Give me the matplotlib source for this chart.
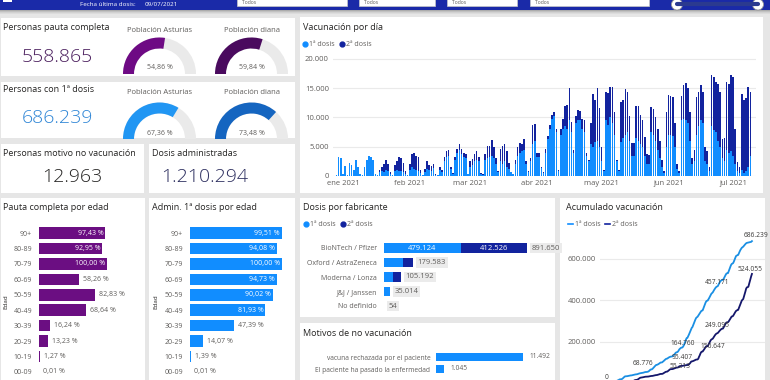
import numpy as np
import pandas as pd
import matplotlib
matplotlib.use("Agg")
import matplotlib.pyplot as plt
from matplotlib.patches import Rectangle, Wedge, Circle
from matplotlib.ticker import FuncFormatter, FixedLocator

plt.rcParams['font.family'] = ['Open Sans', 'DejaVu Sans']

W, H = 770, 380

# ---------------- datos ----------------
fecha_ultima = "09/07/2021"
pauta_completa = 558865
primera_dosis = 686239
motivo_no_vac = 12963
dosis_admin = 1210294
gauge_pauta = [54.86, 59.84]      # Población Asturias, Población diana
gauge_primera = [67.36, 73.48]

# vacunación diaria desde el 28/12/2020 (lunes) hasta el 09/07/2021
dosis1 = [
    50, 100, 3200, 3000, 300, 1700, 200,
    2200, 1900, 1000, 2700, 1500, 300, 100,
    1500, 2800, 3500, 3300, 2700, 300, 100,
    600, 800, 700, 1000, 900, 300, 100,
    900, 1000, 800, 900, 700, 400, 100,
    1000, 1500, 1200, 1000, 900, 500, 100,
    700, 1200, 1100, 900, 1300, 200, 100,
    1100, 700, 2500, 3300, 3500, 1200, 400,
    2800, 4000, 4500, 3800, 3200, 3100, 300,
    1600, 1800, 2500, 2800, 2500, 400, 200,
    2800, 3000, 3300, 3500, 3000, 2000, 600,
    2500, 2000, 2500, 1500, 1200, 600, 300,
    2000, 3500, 4000, 4200, 4500, 2000, 700,
    2500, 5500, 6000, 3300, 3200, 1300, 500,
    4000, 6300, 8000, 9700, 10200, 7500, 900,
    7000, 8000, 8500, 8000, 9500, 7500, 4000,
    9000, 9500, 9500, 8000, 7500, 3500, 2500,
    5500, 5000, 5800, 6000, 5000, 2500, 800,
    9500, 8800, 10000, 9000, 7000, 2500, 900,
    5800, 6500, 7000, 7500, 6000, 3500, 3500,
    6500, 6000, 5500, 5000, 3500, 2000, 2000,
    7500, 7000, 6000, 4500, 3000, 1500, 500,
    5000, 7000, 7000, 6800, 5000, 1200, 500,
    9500, 9800, 9500, 9000, 6000, 2000, 2500,
    7000, 8500, 9500, 9000, 2500, 2000, 800,
    8500, 7800, 7500, 6000, 5000, 3000, 2500,
    4500, 4000, 4200, 3500, 2000, 800, 500,
    1000, 500, 800, 1500, 3500,
]
dosis2 = [
    0, 0, 0, 0, 0, 0, 0,
    0, 0, 0, 0, 0, 0, 0,
    0, 0, 0, 0, 0, 0, 0,
    400, 700, 1300, 1700, 1100, 300, 100,
    1000, 1500, 2500, 2100, 1500, 400, 100,
    1000, 2200, 2800, 2500, 2300, 500, 100,
    500, 1300, 800, 800, 800, 100, 0,
    400, 300, 700, 900, 900, 300, 100,
    400, 700, 1000, 900, 800, 600, 100,
    900, 1100, 1200, 1400, 700, 100, 100,
    900, 2200, 1900, 2700, 2000, 1000, 200,
    2200, 3200, 3000, 2700, 1000, 100, 100,
    700, 1400, 1600, 1200, 1800, 500, 100,
    500, 3200, 2900, 700, 700, 200, 100,
    700, 600, 700, 700, 800, 500, 100,
    1000, 1700, 3400, 4200, 5500, 1800, 500,
    1200, 1700, 1600, 1700, 2000, 500, 200,
    3500, 9000, 7200, 9000, 6600, 2500, 200,
    4800, 5400, 5200, 6200, 4000, 300, 100,
    6800, 6500, 7800, 6900, 4200, 2200, 2100,
    5500, 6000, 5000, 4500, 3200, 1800, 1600,
    4300, 4500, 4000, 3500, 3000, 1200, 300,
    6000, 6800, 6600, 6700, 4000, 800, 300,
    4200, 5700, 6400, 6000, 5000, 1000, 2000,
    6500, 5800, 6100, 5300, 2500, 2300, 700,
    8700, 9200, 8500, 9700, 9300, 3300, 4000,
    11600, 11800, 13100, 13500, 6000, 1600, 1100,
    13000, 12500, 12500, 13700, 10800,
]
fechas = pd.date_range("2020-12-28", periods=len(dosis1))
meses = ["ene 2021", "feb 2021", "mar 2021", "abr 2021", "may 2021", "jun 2021", "jul 2021"]

edades = ["90+", "80-89", "70-79", "60-69", "50-59", "40-49", "30-39", "20-29", "10-19", "00-09"]
pauta_edad = [97.43, 92.95, 100.00, 58.26, 82.83, 68.64, 16.24, 13.23, 1.27, 0.01]
primera_edad = [99.51, 94.08, 100.00, 94.73, 90.02, 81.93, 47.39, 14.07, 1.39, 0.01]

fabricantes = ["BioNTech / Pfizer", "Oxford / AstraZeneca", "Moderna / Lonza", "J&J / Janssen", "No definido"]
fab_d1 = [479124, 118000, 55000, 35014, 54]
fab_d2 = [412526, 61583, 50192, 0, 0]

motivos = ["vacuna rechazada por el paciente", "El paciente ha pasado la enfermedad"]
motivos_n = [11492, 1045]

# etiquetas del acumulado: (día desde 28/12/2020, valor)
etiq_acum = [(-7, 0), (43, 68776), (98, 164760), (145, 457171), (199, 686239),
             (94, 55213), (97, 95407), (139, 150647), (145, 249095), (190, 524055)]

# ---------------- estilo ----------------
c1 = "#118DFF"
c2 = "#12239E"
morado = "#6B0E82"
gris_txt = "#605E5C"
negro = "#252423"


def miles(v):
    return f"{v:,.0f}".replace(",", ".")


def pct(v):
    return f"{v:.2f} %".replace(".", ",")


def box(x, y, w, h):
    return [x / W, 1 - (y + h) / H, w / W, h / H]


fig = plt.figure(figsize=(7.7, 3.8), dpi=100, facecolor="#E6E6E6")
bg = fig.add_axes([0, 0, 1, 1])
bg.set_xlim(0, W)
bg.set_ylim(H, 0)
bg.axis("off")

# cabecera
for i, a in enumerate([0.35, 0.25, 0.16, 0.09, 0.04]):
    bg.add_patch(Rectangle((0, 9 + i), W, 1, fc="black", alpha=a, ec="none"))
bg.add_patch(Rectangle((0, 0), W, 9.5, fc="#1A2AA8", ec="none"))
bg.add_patch(Rectangle((3, -2), 9, 4, fc="white", ec="none"))
bg.text(80, 4.5, "Fecha última dosis:", color="white", fontsize=4.5, va="center")
bg.text(145, 4.5, fecha_ultima, color="white", fontsize=4.5, va="center")
for x0, x1 in [(237, 347), (359, 435), (447, 517), (530, 649)]:
    bg.add_patch(Rectangle((x0, -2), x1 - x0, 7.5, fc="white", ec="#C8C8C8", lw=0.5))
    bg.text(x0 + 5, 2.8, "Todos", color=gris_txt, fontsize=3.6, va="center")
bg.plot([677, 758], [4, 4], color="#2B3A8F", lw=3, solid_capstyle="round")
for cx in [677, 758]:
    bg.add_patch(Circle((cx, 4.5), 5.5, fc="white", ec="#9A9A9A", lw=0.6))

# paneles
paneles = [(1, 18, 294, 58), (1, 82, 294, 56), (1, 144, 143, 49), (149, 144, 146, 49),
           (300, 17, 463, 176), (1, 198, 144, 190), (149, 198, 146, 190),
           (300, 198, 255, 119), (300, 323, 255, 60), (560, 198, 205, 190)]
for x, y, w, h in paneles:
    bg.add_patch(Rectangle((x, y), w, h, fc="white", ec="none"))

tit = dict(fontsize=6.5, color=negro, va="center")
bg.text(3, 27, "Personas pauta completa", **tit)
bg.text(3, 90, "Personas con 1ª dosis", **tit)
bg.text(3, 153, "Personas motivo no vacunación", **tit)
bg.text(152, 153, "Dosis administradas", **tit)
bg.text(303, 28, "Vacunación por día", **tit)
bg.text(3, 207, "Pauta completa por edad", **tit)
bg.text(152, 207, "Admin. 1ª dosis por edad", **tit)
bg.text(303, 207, "Dosis por fabricante", **tit)
bg.text(303, 333, "Motivos de no vacunación", **tit)
bg.text(566, 207, "Acumulado vacunación", **tit)

kpi = dict(fontsize=14, ha="center", va="center", fontweight="light")
bg.text(57, 57, miles(pauta_completa), color="#4B1F5E", **kpi)
bg.text(57, 118, miles(primera_dosis), color="#2F86D6", **kpi)
bg.text(72, 177, miles(motivo_no_vac), color=negro, **kpi)
bg.text(205, 177, miles(dosis_admin), color="#2B2D5E", **kpi)


def gauge(cx, cy, p, color, titulo, ty):
    r = 36.5
    bg.add_patch(Wedge((cx, cy), r, 180, 360, width=11, fc="#EAEAEA", ec="none"))
    bg.add_patch(Wedge((cx, cy), r, 180, 180 + 180 * p / 100, width=11, fc=color, ec="none"))
    bg.text(cx, cy - 6, pct(p), fontsize=5, color=gris_txt, ha="center", va="center")
    bg.text(cx, ty, titulo, fontsize=5.5, color=gris_txt, ha="center", va="center")


gauge(159.5, 74, gauge_pauta[0], "#6E0A84", "Población Asturias", 30)
gauge(251.5, 74, gauge_pauta[1], "#4A0A5E", "Población diana", 30)
gauge(159.5, 139, gauge_primera[0], "#2196F3", "Población Asturias", 93)
gauge(251.5, 139, gauge_primera[1], "#1565C0", "Población diana", 93)
bg.add_patch(Rectangle((100, 138.5), 195, 5.5, fc="#E6E6E6", ec="none", zorder=5))


def leyenda(x, y, marca):
    for xx, c, t in [(x, c1, "1ª dosis"), (x + 37, c2, "2ª dosis")]:
        if marca == "o":
            bg.plot(xx, y, "o", color=c, ms=3.5)
            bg.text(xx + 4, y, t, fontsize=5, color=gris_txt, va="center")
        else:
            bg.plot([xx - 2, xx + 3], [y, y], color=c, lw=1.2)
            bg.text(xx + 5, y, t, fontsize=5, color=gris_txt, va="center")


leyenda(305, 44, "o")
leyenda(306, 224, "o")
leyenda(570, 224, "-")

# ---------------- vacunación por día ----------------
ax = fig.add_axes(box(333, 55, 423, 121))
ax.bar(fechas, dosis1, width=0.75, color=c1, zorder=2)
ax.bar(fechas, dosis2, bottom=dosis1, width=0.75, color=c2, zorder=2)
t0 = fechas[0]
ax.set_xlim(t0 - pd.Timedelta(days=0.64), t0 + pd.Timedelta(days=195.6))
ax.set_ylim(0, 20680)
ax.set_yticks([0, 5000, 10000, 15000, 20000])
ax.yaxis.set_major_formatter(FuncFormatter(lambda v, _: miles(v)))
ax.xaxis.set_major_locator(FixedLocator(
    [matplotlib.dates.date2num(d) for d in pd.date_range("2021-01-01", periods=7, freq="MS")]))
ax.set_xticklabels(meses)
ax.grid(axis="y", color="#EAEAEA", lw=0.8, zorder=0)
for s in ax.spines.values():
    s.set_visible(False)
ax.tick_params(length=0, labelsize=5.5, colors=gris_txt, pad=3)
ax.set_facecolor("none")


# ---------------- barras por edad ----------------
def barras_edad(x0, ancho_100, valores, color, xlab):
    a = fig.add_axes(box(x0, 225.3, 104, 154.4))
    a.barh(range(len(edades)), valores, height=0.75, color=color)
    xmax = 104 / ancho_100 * 100
    a.set_xlim(0, xmax)
    a.set_ylim(len(edades) - 0.5, -0.5)
    a.set_yticks(range(len(edades)))
    a.set_yticklabels(edades)
    a.set_xticks([])
    for s in a.spines.values():
        s.set_visible(False)
    a.tick_params(length=0, labelsize=5, colors=gris_txt, pad=5)
    a.set_facecolor("none")
    for i, v in enumerate(valores):
        if v * ancho_100 / 100 > 60:
            a.text(v - 2 * xmax / 104, i, pct(v), color="white", fontsize=5,
                   ha="right", va="center")
        else:
            a.text(v + 4 * xmax / 104, i, pct(v), color=gris_txt, fontsize=5,
                   ha="left", va="center")
    bg.text(xlab, 302, "Edad", rotation=90, fontsize=4.5, color=negro,
            ha="center", va="center")


barras_edad(39, 68, pauta_edad, morado, 6)
barras_edad(190, 92, primera_edad, c1, 156)

# ---------------- dosis por fabricante ----------------
af = fig.add_axes(box(384, 240.75, 166, 72.5))
yy = range(len(fabricantes))
af.barh(yy, fab_d1, height=0.65, color=c1)
af.barh(yy, fab_d2, left=fab_d1, height=0.65, color=c2)
fmax = 166 / 0.1604 * 1000
af.set_xlim(0, fmax)
af.set_ylim(len(fabricantes) - 0.5, -0.5)
af.set_yticks(list(yy))
af.set_yticklabels(fabricantes)
af.set_xticks([])
for s in af.spines.values():
    s.set_visible(False)
af.tick_params(length=0, labelsize=5, colors=gris_txt, pad=5)
af.set_facecolor("none")
for i in yy:
    if fab_d1[i] * 166 / fmax > 40:
        af.text(fab_d1[i] / 2, i, miles(fab_d1[i]), color="white", fontsize=5.5, ha="center", va="center")
    if fab_d2[i] * 166 / fmax > 40:
        af.text(fab_d1[i] + fab_d2[i] / 2, i, miles(fab_d2[i]), color="white", fontsize=5.5,
                ha="center", va="center")
    tot = fab_d1[i] + fab_d2[i]
    af.annotate(miles(tot), (tot, i), xytext=(3.5, 0), textcoords="offset points",
                fontsize=5.5, color=gris_txt, ha="left", va="center",
                bbox=dict(fc="#EBEBEB", ec="none", pad=1.2))

# ---------------- motivos ----------------
am = fig.add_axes(box(436, 351, 114, 24))
am.barh(range(len(motivos)), motivos_n, height=0.7, color=c1)
am.set_xlim(0, 114 / 87 * 11492)
am.set_ylim(len(motivos) - 0.5, -0.5)
am.set_yticks(range(len(motivos)))
am.set_yticklabels(motivos)
am.set_xticks([])
for s in am.spines.values():
    s.set_visible(False)
am.tick_params(length=0, labelsize=4.8, colors=gris_txt, pad=4)
am.set_facecolor("none")
for i, v in enumerate(motivos_n):
    am.annotate(miles(v), (v, i), xytext=(5, 0), textcoords="offset points",
                fontsize=4.8, color=gris_txt, ha="left", va="center")

# ---------------- acumulado ----------------
aa = fig.add_axes(box(600, 232, 165, 163))
dias = np.arange(len(dosis1))
aa.plot(dias, np.cumsum(dosis1), color="#1A8FE3", lw=1.3)
aa.plot(dias, np.cumsum(dosis2), color="#14176B", lw=1.3)
aa.set_xlim(-16.5, 211)
aa.set_ylim(-58000, 730000)
aa.set_yticks([200000, 400000, 600000])
aa.yaxis.set_major_formatter(FuncFormatter(lambda v, _: miles(v)))
aa.set_xticks([])
aa.grid(axis="y", color="#EAEAEA", lw=0.8, zorder=0)
for s in aa.spines.values():
    s.set_visible(False)
aa.tick_params(length=0, labelsize=5.5, colors=gris_txt, pad=3)
aa.set_facecolor("none")
for d, v in etiq_acum:
    aa.annotate(miles(v), (d, v), xytext=(0, 4), textcoords="offset points",
                fontsize=4.8, color="#3B3A39", ha="center", va="center")

fig.savefig("out.png", dpi=100, facecolor=fig.get_facecolor())
